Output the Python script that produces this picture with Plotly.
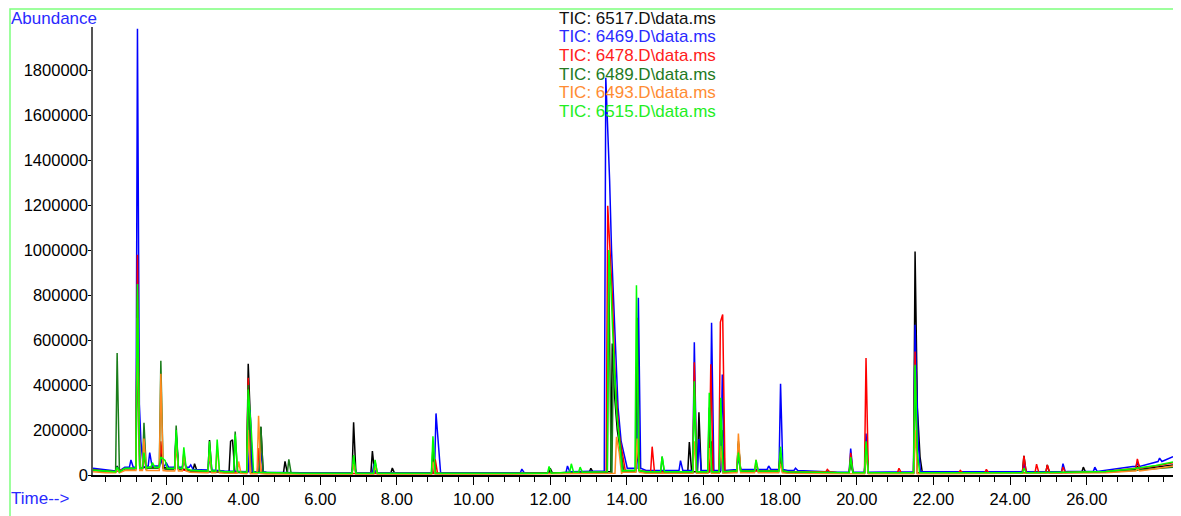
import plotly.graph_objects as go

# ---------------- data (time in min, abundance in thousands of counts) ----------------
series_names = ["TIC: 6517.D\\data.ms", "TIC: 6469.D\\data.ms", "TIC: 6478.D\\data.ms",
                "TIC: 6489.D\\data.ms", "TIC: 6493.D\\data.ms", "TIC: 6515.D\\data.ms"]
series_colors = ["#000000", "#0000ff", "#ff0000", "#1a7d1a", "#ff8a1f", "#00ff00"]
text_colors = ["#111111", "#2a2aff", "#ff2020", "#237a23", "#ff8c33", "#22ee22"]

base_t = [0.07, 0.4, 0.65, 0.9, 1.5, 2.0, 2.6, 3.0, 3.5, 4.0, 4.6, 5.5, 8.0, 11.0,
          12.5, 13.35, 13.9, 14.5, 15.5, 16.8, 18.2, 19.5, 21.0, 22.5, 25.5, 26.5,
          27.2, 27.8, 28.25]
base_black = [25, 18, 15, 30, 35, 30, 20, 18, 15, 12, 10, 8, 8, 8, 12, 15, 20, 15, 15, 20,
              15, 10, 10, 10, 12, 15, 25, 35, 45]
base_blue = [30, 22, 18, 35, 40, 35, 25, 22, 18, 15, 12, 10, 10, 10, 14, 18, 30, 20, 20, 25,
             20, 12, 14, 14, 16, 22, 38, 60, 82]
base_red = [22, 16, 14, 28, 30, 25, 18, 15, 12, 10, 8, 7, 7, 7, 10, 12, 18, 14, 14, 18,
            14, 10, 10, 10, 12, 16, 30, 40, 55]
base_dkgreen = [20, 15, 14, 28, 30, 25, 18, 15, 12, 10, 8, 6, 6, 6, 10, 12, 15, 10, 10, 14,
                10, 8, 8, 8, 9, 12, 20, 28, 35]
base_orange = [15, 10, 10, 20, 20, 18, 12, 10, 8, 6, 5, 4, 4, 4, 6, 8, 12, 8, 8, 10,
               8, 6, 6, 6, 8, 10, 18, 28, 40]
base_lime = [22, 16, 14, 30, 35, 30, 22, 18, 15, 12, 10, 8, 8, 8, 12, 15, 20, 15, 15, 18,
             14, 10, 10, 10, 12, 16, 28, 42, 58]

peak_t_black = [0.70, 1.23, 1.84, 2.24, 2.72, 3.11, 3.66, 3.71, 4.12, 4.17, 4.45, 5.08, 6.87,
                7.36, 7.88, 8.95, 12.0, 13.06, 13.62, 13.68, 13.75, 13.85, 14.27, 15.63,
                15.88, 16.20, 16.48, 16.91, 18.0, 19.84, 20.24, 21.52, 21.58, 21.65, 24.36,
                24.97, 25.91, 27.32]
peak_h_black = [40, 600, 100, 175, 50, 155, 150, 157, 495, 300, 214, 61, 235,
                106, 31, 89, 30, 30, 585, 350, 200, 90, 100, 147,
                279, 150, 200, 140, 60, 60, 150, 994, 300, 80, 85,
                45, 35, 40]

peak_t_blue = [0.70, 1.06, 1.23, 1.28, 1.32, 1.55, 1.84, 1.98, 2.24, 2.44, 2.62, 3.11, 4.17,
               4.45, 6.87, 7.40, 9.02, 9.08, 11.26, 12.45, 13.45, 13.50, 13.55, 13.60, 13.65,
               13.70, 13.77, 13.85, 13.95, 14.30, 15.40, 15.76, 15.88, 16.21, 16.49, 16.91,
               17.70, 18.01, 18.40, 19.84, 20.24, 21.52, 21.60, 24.36, 25.38, 26.21, 27.32,
               27.9]
peak_h_blue = [35, 67, 1985, 315, 150, 100, 70, 55, 185, 60, 45, 80, 289,
               100, 60, 50, 274, 120, 26, 40, 1767, 1550, 1310, 1000, 800,
               550, 300, 150, 80, 789, 64, 590, 160, 677, 447, 80,
               40, 406, 30, 118, 184, 668, 150, 50, 50, 35, 55,
               75]

peak_t_red = [1.23, 1.40, 1.84, 2.24, 4.12, 4.40, 9.00, 13.50, 13.55, 13.62, 13.70, 13.80,
              13.90, 14.27, 14.66, 15.76, 16.19, 16.44, 16.50, 16.91, 18.0, 19.23, 19.84,
              20.24, 21.10, 21.52, 22.70, 23.38, 24.36, 24.69, 24.97, 25.38, 27.32]
peak_h_red = [980, 80, 150, 140, 433, 120, 70, 1198, 1000, 800, 400, 180,
              80, 140, 126, 502, 493, 680, 714, 120, 80, 25, 99,
              520, 30, 549, 20, 25, 85, 48, 45, 35, 72]

peak_t_dkgreen = [0.70, 1.23, 1.40, 1.84, 2.24, 2.44, 3.78, 4.12, 4.45, 5.18, 6.87, 7.43,
                  8.94, 13.53, 13.65, 13.75, 13.85, 14.27, 14.92, 15.76, 16.15, 16.45, 16.91,
                  17.37, 18.0, 19.84, 20.24, 21.52]
peak_h_dkgreen = [543, 800, 232, 508, 220, 100, 193, 400, 214, 70, 80, 60,
                  120, 900, 550, 250, 100, 700, 82, 400, 300, 300, 150,
                  50, 100, 70, 140, 480]

peak_t_orange = [0.70, 1.23, 1.40, 1.84, 2.24, 2.44, 3.11, 3.31, 3.87, 4.12, 4.39, 6.87,
                 7.43, 8.94, 13.73, 13.80, 14.27, 15.76, 16.15, 16.45, 16.91, 17.37, 18.0,
                 20.24, 21.52, 27.32]
peak_h_orange = [30, 700, 162, 450, 150, 90, 100, 130, 60, 200, 264, 50,
                 40, 60, 170, 100, 162, 150, 120, 130, 184, 67, 50,
                 100, 200, 30]

peak_t_lime = [0.70, 1.23, 1.40, 1.62, 1.84, 1.95, 2.24, 2.44, 3.11, 3.31, 3.78, 4.12, 4.20,
               6.87, 7.43, 8.94, 11.97, 12.55, 12.78, 13.53, 13.58, 13.64, 13.72, 13.82, 14.25,
               14.92, 15.76, 16.15, 16.45, 16.91, 17.37, 18.01, 19.84, 20.24, 21.52, 21.58,
               24.36]
peak_h_lime = [35, 850, 100, 55, 80, 65, 200, 123, 150, 158, 180, 380, 200,
               89, 67, 172, 38, 50, 35, 1001, 850, 600, 300, 120, 844,
               82, 417, 366, 344, 100, 67, 126, 80, 150, 490, 100,
               30]

x_tick_vals = [2, 4, 6, 8, 10, 12, 14, 16, 18, 20, 22, 24, 26]
x_tick_text = ["2.00", "4.00", "6.00", "8.00", "10.00", "12.00", "14.00", "16.00",
               "18.00", "20.00", "22.00", "24.00", "26.00"]
y_tick_vals = [0, 200000, 400000, 600000, 800000, 1000000, 1200000, 1400000, 1600000, 1800000]
y_tick_text = ["0", "200000", "400000", "600000", "800000", "1000000", "1200000",
               "1400000", "1600000", "1800000"]

# ---------------- drawing helpers (shape of a peak, not data) ----------------
HW_L, HW_R, JOIN = 0.04, 0.06, 0.11


def build(peak_t, peak_h, b_t, b_y):
    groups = []
    for t, h in sorted(zip(peak_t, peak_h)):
        if groups and t - groups[-1][-1][0] < JOIN:
            groups[-1].append((t, h))
        else:
            groups.append([(t, h)])

    def base_at(t):
        v = b_y[0]
        for bt, by in zip(b_t, b_y):
            if bt <= t:
                v = by
        return v

    pts, spans = [], []
    for g in groups:
        l, r = g[0][0] - HW_L, g[-1][0] + HW_R
        spans.append((l, r))
        pts += [(l, base_at(l))] + g + [(r, base_at(r))]
    for bt, by in zip(b_t, b_y):
        if not any(l <= bt <= r for l, r in spans):
            pts.append((bt, by))
    pts.sort()
    return [p[0] for p in pts], [p[1] * 1000 for p in pts]


all_series = [
    (peak_t_black, peak_h_black, base_black),
    (peak_t_blue, peak_h_blue, base_blue),
    (peak_t_red, peak_h_red, base_red),
    (peak_t_dkgreen, peak_h_dkgreen, base_dkgreen),
    (peak_t_orange, peak_h_orange, base_orange),
    (peak_t_lime, peak_h_lime, base_lime),
]

FONT = "Liberation Sans, Arial, Helvetica, sans-serif"
OFF = 8                     # page body margin
W, H = 1181 - OFF, 516 - OFF
# plot area in page pixels: x 93..1173, y 27..482
L, R, T, B = 93 - OFF, 8, 27 - OFF, (516 - OFF) - (482 - OFF)
PW, PH = W - L - R, H - T - B

fig = go.Figure()
for (pt, ph, by), name, col in zip(all_series, series_names, series_colors):
    xs, ys = build(pt, ph, base_t, by)
    fig.add_trace(go.Scatter(x=xs, y=ys, mode="lines", name=name,
                             line=dict(color=col, width=1.5), showlegend=False))


def px_x(px):  # page pixel -> paper
    return (px - OFF - L) / PW


def px_y(py):
    return (H - B - (py - OFF)) / PH


annotations = []
for i, (name, tc) in enumerate(zip(series_names, text_colors)):
    annotations.append(dict(x=px_x(557), y=px_y(18 + 19 * i), xref="paper", yref="paper",
                            text=name, showarrow=False, xanchor="left", yanchor="middle",
                            font=dict(family=FONT, size=17, color=tc)))
annotations.append(dict(x=px_x(9), y=px_y(18), xref="paper", yref="paper", text="Abundance",
                        showarrow=False, xanchor="left", yanchor="middle",
                        font=dict(family=FONT, size=17, color="#2a2aff")))
annotations.append(dict(x=px_x(9), y=px_y(506), xref="paper", yref="paper", text="Time-->",
                        showarrow=False, xanchor="left", yanchor="middle",
                        font=dict(family=FONT, size=17, color="#2a2aff")))

fig.update_layout(
    width=W, height=H, autosize=False,
    margin=dict(l=L, r=R, t=T, b=B),
    paper_bgcolor="white", plot_bgcolor="white",
    font=dict(family=FONT, size=16, color="black"),
    annotations=annotations,
    shapes=[dict(type="rect", xref="paper", yref="paper",
                 x0=px_x(10), x1=px_x(1180), y0=px_y(540), y1=px_y(8.8),
                 line=dict(color="#7dff7d", width=1.5), layer="below")],
    xaxis=dict(range=[0.07, 28.25], tickmode="array", tickvals=x_tick_vals,
               ticktext=x_tick_text, ticks="outside", ticklen=8, tickcolor="black",
               tickwidth=1.2, showline=True, linecolor="black", linewidth=1.5,
               showgrid=False, zeroline=False,
               minor=dict(dtick=0.4, tick0=0, ticks="outside", ticklen=5,
                          tickcolor="black", tickwidth=1.2, showgrid=False),
               tickfont=dict(family=FONT, size=16.5, color="black")),
    yaxis=dict(range=[0, 1993000], tickmode="array", tickvals=y_tick_vals,
               ticktext=y_tick_text, ticks="outside", ticklen=3, tickcolor="black",
               ticklabelstandoff=-3,
               showline=True, linecolor="#555555", linewidth=1.5,
               showgrid=False, zeroline=False,
               tickfont=dict(family=FONT, size=16.5, color="black")),
)

fig.write_html("out.html")
